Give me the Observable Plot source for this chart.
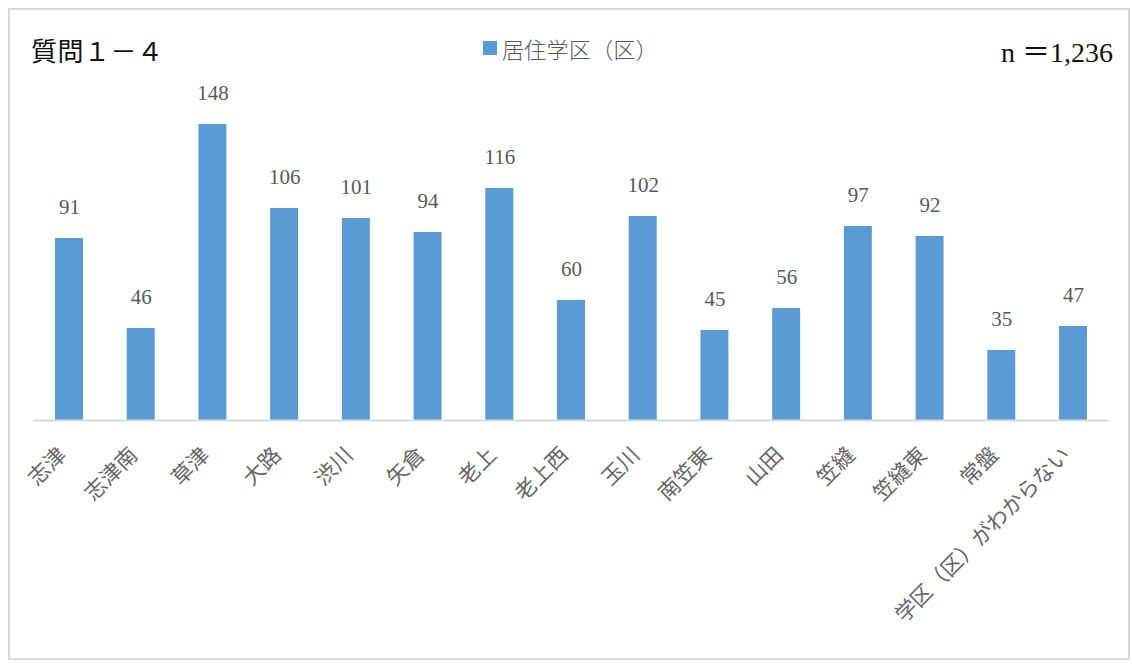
<!DOCTYPE html>
<html><head><meta charset="utf-8">
<script src="https://cdn.jsdelivr.net/npm/d3@7"></script>
<script src="https://cdn.jsdelivr.net/npm/@observablehq/plot@0.6"></script>
<style>
html,body{margin:0;padding:0;background:#fff;width:1132px;height:664px;overflow:hidden;}
#frame{position:absolute;left:8px;top:8px;width:1122px;height:652px;box-sizing:border-box;border:2px solid #d9d9d9;}
#title{position:absolute;left:31px;top:31px;font-family:"Liberation Serif","Noto Sans CJK JP",serif;font-size:26px;color:#111;white-space:pre;letter-spacing:0.5px;}
#legend{position:absolute;left:483px;top:32px;font-family:"Noto Sans CJK JP",sans-serif;font-weight:300;font-size:22px;color:#595959;display:flex;align-items:center;letter-spacing:0.3px;}
#legend span.sw{display:inline-block;width:14px;height:14px;background:#5B9BD5;margin-right:5px;}
#n{position:absolute;right:19px;top:30px;font-family:"Liberation Serif","Noto Sans CJK JP",serif;font-size:28px;color:#111;white-space:pre;}
#chart{position:absolute;left:0;top:80px;}
</style>
</head><body>
<div id="frame"></div>
<div id="title">質問１－４</div>
<div id="legend"><span class="sw"></span><span>居住学区（区）</span></div>
<div id="n">n ＝1,236</div>
<div id="chart"></div>
<script>
const categories = ["志津","志津南","草津","大路","渋川","矢倉","老上","老上西","玉川","南笠東","山田","笠縫","笠縫東","常盤","学区（区）がわからない"];
const counts = [91,46,148,106,101,94,116,60,102,45,56,97,92,35,47];

const data = categories.map((c, i) => ({cat: c, value: counts[i]}));

const chart = Plot.plot({
  width: 1132,
  height: 570,
  marginTop: 20,
  marginBottom: 230,
  marginLeft: 33.5,
  marginRight: 23.5,
  style: {background: "none", overflow: "visible", fontFamily: "'Liberation Serif','Noto Sans CJK JP',serif"},
  x: {domain: categories, paddingInner: 0.61, paddingOuter: 0.3, round: false, axis: null},
  y: {domain: [0, 160], axis: null},
  marks: [
    Plot.barY(data, {x: "cat", y: "value", fill: "#5B9BD5"}),
    Plot.ruleY([0], {stroke: "#d9d9d9", strokeWidth: 2}),
    Plot.text(data, {x: "cat", y: "value", text: d => String(d.value), dy: -31, fill: "#595959", fontSize: 21, fontFamily: "'Liberation Serif',serif"}),
    Plot.text(data, {x: "cat", y: 0, text: "cat", rotate: -45, textAnchor: "end", lineAnchor: "middle", dy: 31, dx: -7, fill: "#666666", fontSize: 21.5, fontFamily: "'Noto Sans CJK JP',sans-serif"})
  ]
});
document.getElementById("chart").appendChild(chart);
</script>
</body></html>
